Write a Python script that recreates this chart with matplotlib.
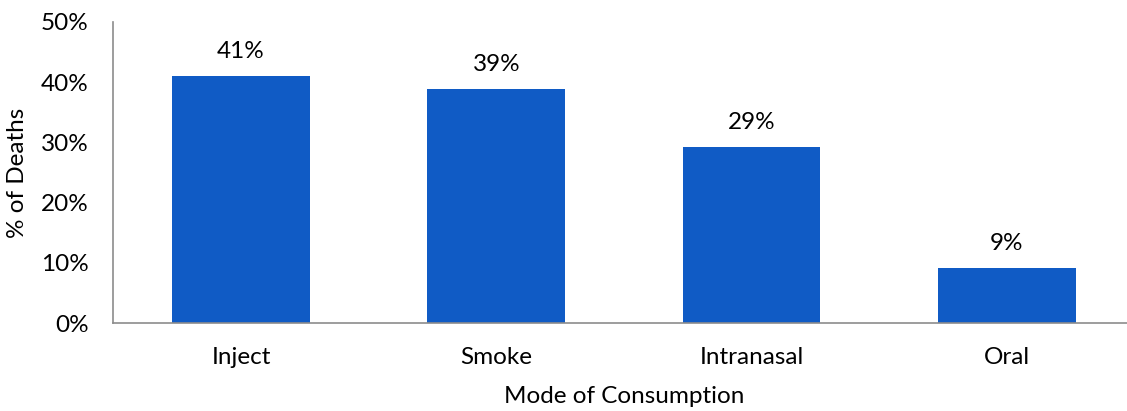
import matplotlib
matplotlib.use('Agg')
import matplotlib.pyplot as plt

# Share of deaths by mode of consumption (%)
modes = ['Inject', 'Smoke', 'Intranasal', 'Oral']
pct_deaths = [41.0, 38.9, 29.2, 9.1]
yticks = [0, 10, 20, 30, 40, 50]

plt.rcParams['font.family'] = ['Lato', 'DejaVu Sans']
plt.rcParams['font.size'] = 17.5

fig = plt.figure(figsize=(11.27, 4.11), dpi=100)
# axis runs a little past the right edge of the image, as in the original
ax = fig.add_axes([0.1006, 0.2141, 0.906, 0.7324])

x = range(len(modes))
bars = ax.bar(x, pct_deaths, width=0.54, color='#105bc5')

# value labels above bars
for xi, v in zip(x, pct_deaths):
    ax.text(xi, v + 2.3, '%d%%' % round(v), ha='center', va='bottom')

ax.set_xlim(-0.5, len(modes) - 0.5)
ax.set_ylim(0, 50)
ax.set_yticks(yticks)
ax.set_yticklabels(['%d%%' % t for t in yticks])
ax.set_xticks(list(x))
ax.set_xticklabels(modes)
ax.tick_params(length=0)
ax.tick_params(axis='y', pad=18)
ax.tick_params(axis='x', pad=17)

for s in ['top', 'right']:
    ax.spines[s].set_visible(False)
for s in ['left', 'bottom']:
    ax.spines[s].set_color('#8c8c8c')
    ax.spines[s].set_linewidth(1.2)

ax.set_xlabel('Mode of Consumption', labelpad=13)
ax.set_ylabel('% of Deaths', labelpad=9)

fig.savefig('out.png', dpi=100)
